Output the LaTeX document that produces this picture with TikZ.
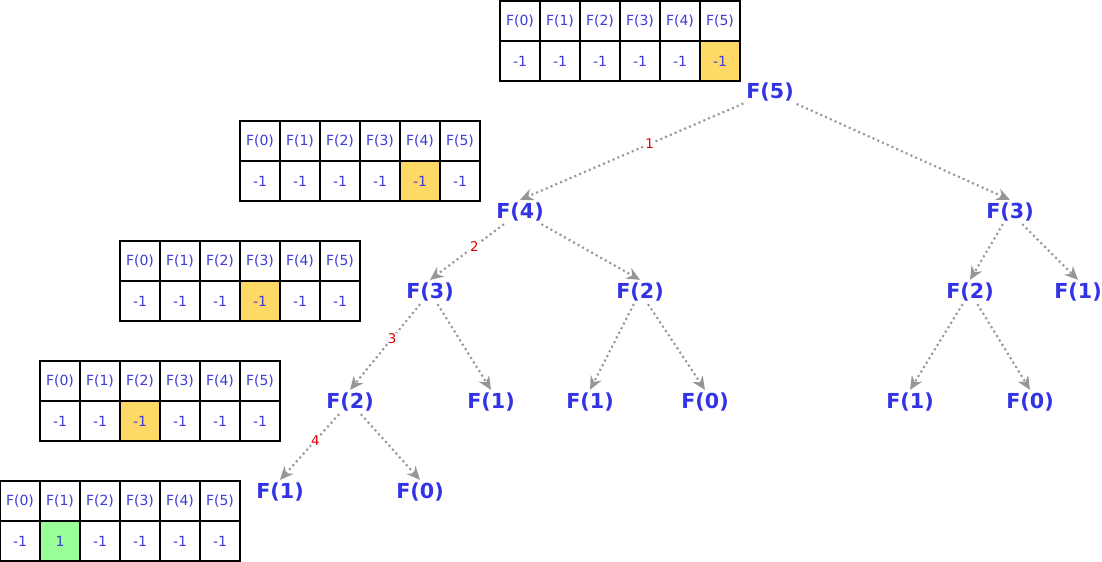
\documentclass[tikz,border=0pt]{standalone}
\usepackage{fontspec}
\setmainfont{DejaVu Sans}
\usetikzlibrary{arrows.meta}
\definecolor{treeblue}{RGB}{51,51,230}
\definecolor{cellblue}{RGB}{60,60,215}
\definecolor{edgegray}{RGB}{150,150,150}
\definecolor{memoyellow}{RGB}{255,217,102}
\definecolor{memogreen}{RGB}{153,255,153}
\definecolor{stepred}{RGB}{220,0,0}
\tikzset{
  call/.style    = {text=treeblue, font=\fontsize{15.5}{15.5}\selectfont\bfseries, inner sep=2pt},
  cell/.style    = {draw=black, line width=1.1pt, minimum width=30pt, minimum height=30pt,
                    inner sep=0pt, text=cellblue, font=\fontsize{10.5}{10.5}\selectfont},
  edge/.style    = {-{Stealth[length=10pt, width=9pt]}, edgegray, line width=1.6pt,
                    dash pattern=on 1.5pt off 2.4pt},
  steplabel/.style = {text=stepred, fill=white, font=\fontsize{10}{10}\selectfont, inner sep=0.5pt},
}

\begin{document}
\begin{tikzpicture}[x=0.75pt, y=-0.75pt]
  \useasboundingbox (0,0) rectangle (1102,561);

  % memo tables, one per step down the left branch
  \foreach \tab/\tx/\ty/\hl/\hlcol/\hlval in
      {a/500/1/5/memoyellow/-1, b/240/121/4/memoyellow/-1, c/120/241/3/memoyellow/-1,
       d/40/361/2/memoyellow/-1, e/0/481/1/memogreen/1} {
    \foreach \i in {0,...,5} {
      \ifnum\i=\hl \def\cellcol{\hlcol}\def\cellval{\hlval}
      \else \def\cellcol{white}\def\cellval{-1}\fi
      \node[cell] (\tab h\i) at (\tx+20+40*\i, \ty+20) {F(\i)};
      \node[cell, fill=\cellcol] (\tab v\i) at (\tx+20+40*\i, \ty+60) {\cellval};
    }
  }

  % recursion tree
  \node[call] (f5)   at (770, 92)  {F(5)};
  \node[call] (f4)   at (520, 212) {F(4)};
  \node[call] (f3r)  at (1010, 212) {F(3)};
  \node[call] (f3)   at (430, 292) {F(3)};
  \node[call] (f2m)  at (640, 292) {F(2)};
  \node[call] (f2r)  at (970, 292) {F(2)};
  \node[call] (f1r)  at (1078, 292) {F(1)};
  \node[call] (f2)   at (350, 402) {F(2)};
  \node[call] (f1a)  at (491, 402) {F(1)};
  \node[call] (f1b)  at (590, 402) {F(1)};
  \node[call] (f0b)  at (705, 402) {F(0)};
  \node[call] (f1c)  at (910, 402) {F(1)};
  \node[call] (f0c)  at (1030, 402) {F(0)};
  \node[call] (f1)   at (280, 492) {F(1)};
  \node[call] (f0)   at (420, 492) {F(0)};

  \draw[edge] (f5) -- (f4.north) node[steplabel, pos=0.42] {1};
  \draw[edge] (f5) -- (f3r.north);
  \draw[edge] (f4) -- (f3.north) node[steplabel, pos=0.4] {2};
  \draw[edge] (f4) -- (f2m.north);
  \draw[edge] (f3) -- (f2.north) node[steplabel, pos=0.4] {3};
  \draw[edge] (f3) -- (f1a.north);
  \draw[edge] (f2m) -- (f1b.north);
  \draw[edge] (f2m) -- (f0b.north);
  \draw[edge] (f3r) -- (f2r.north);
  \draw[edge] (f3r) -- (f1r.north);
  \draw[edge] (f2r) -- (f1c.north);
  \draw[edge] (f2r) -- (f0c.north);
  \draw[edge] (f2) -- (f1.north) node[steplabel, pos=0.4] {4};
  \draw[edge] (f2) -- (f0.north);
\end{tikzpicture}
\end{document}
